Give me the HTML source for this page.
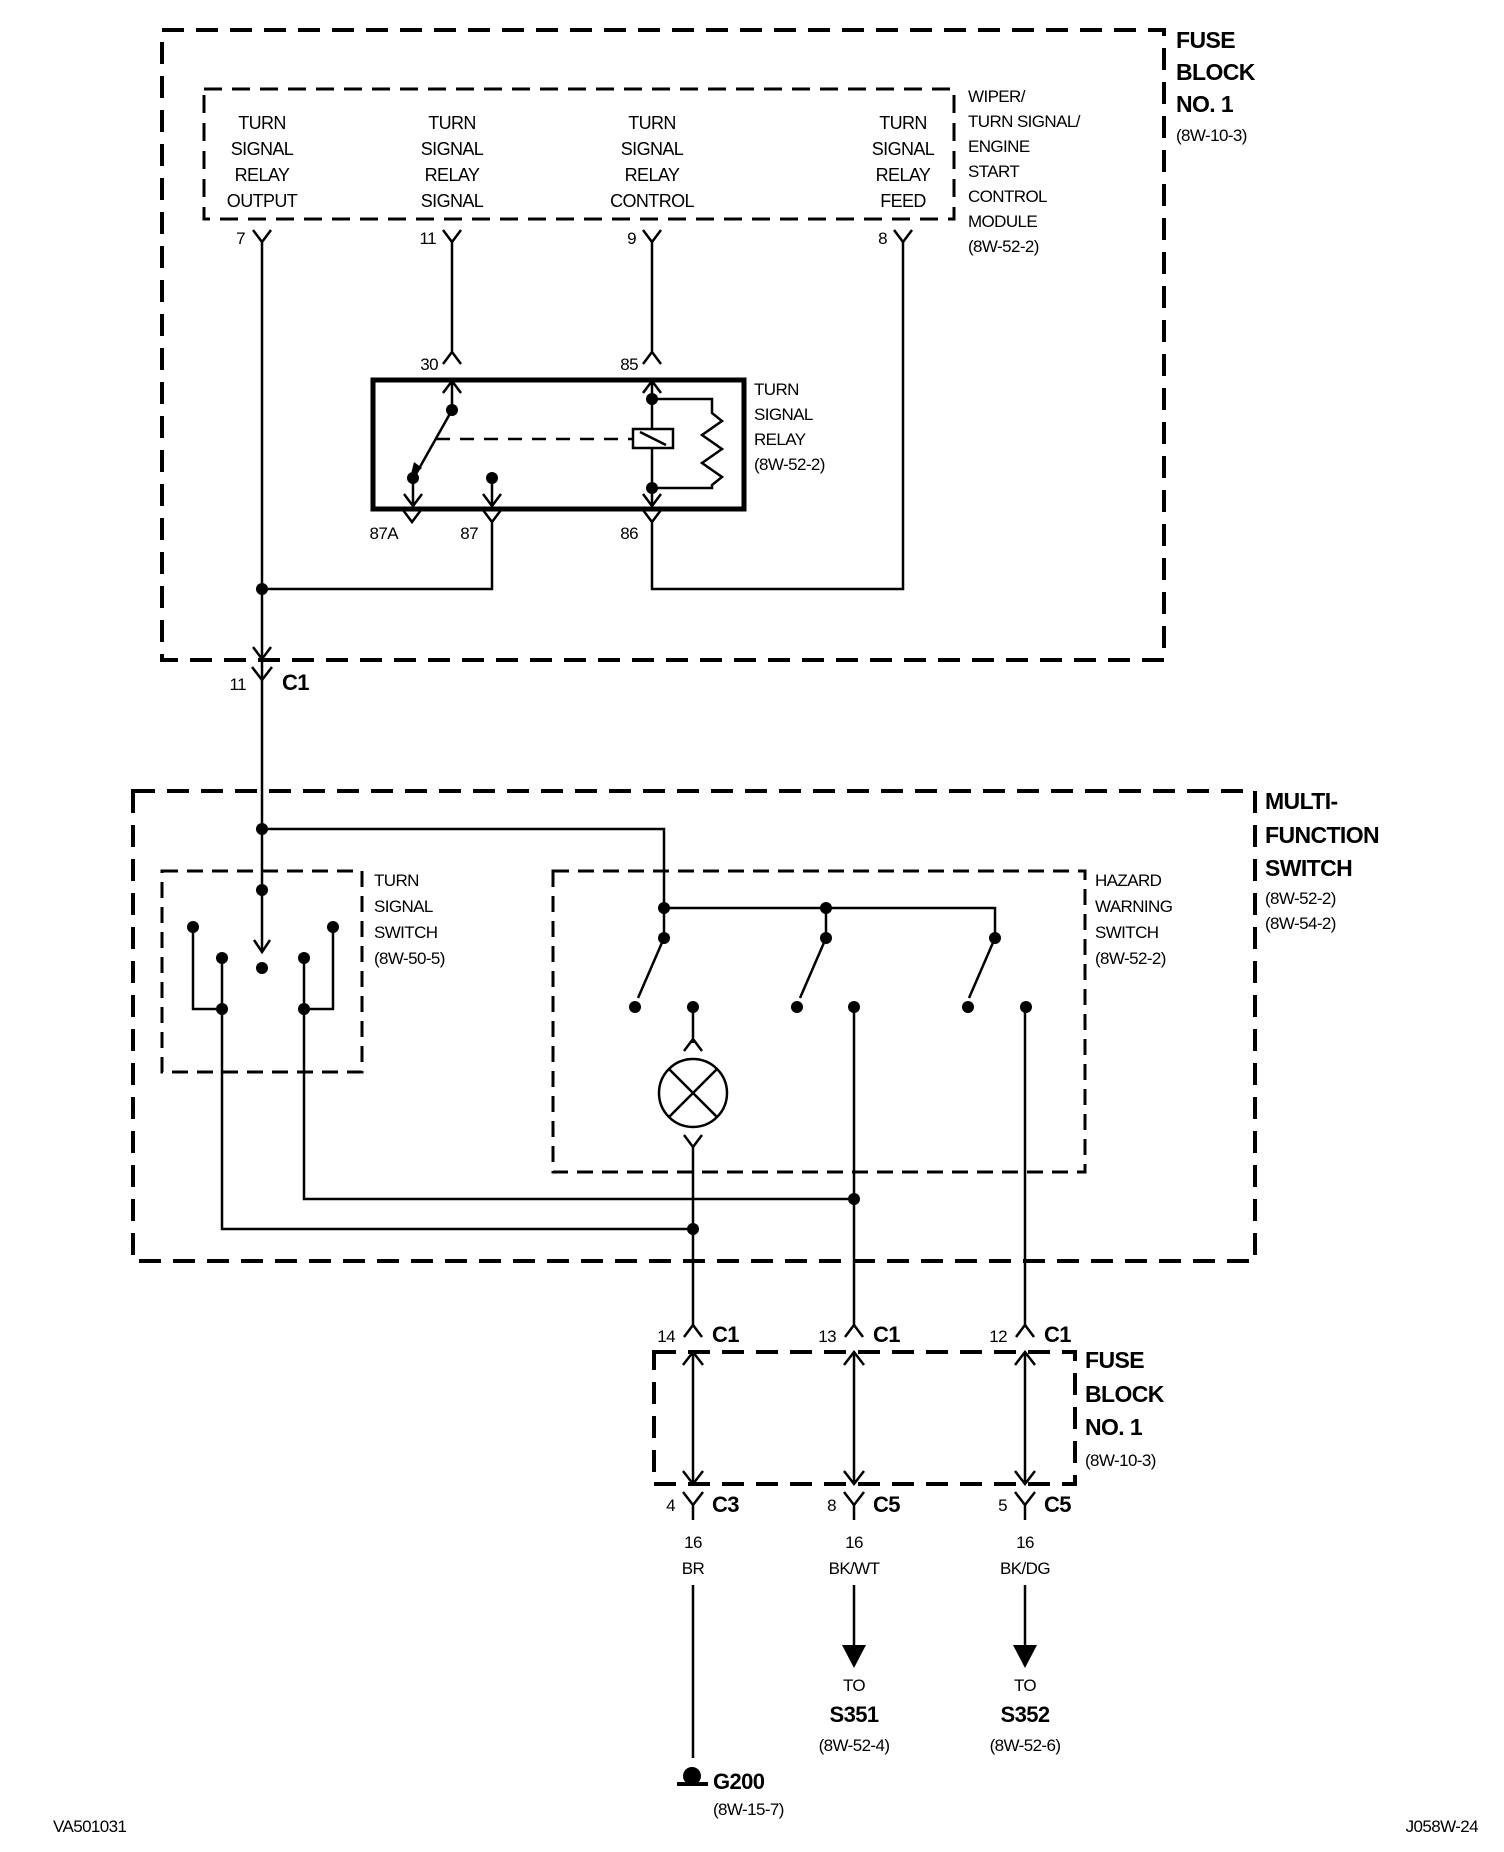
<!DOCTYPE html>
<html><head><meta charset="utf-8"><style>
html,body{margin:0;padding:0;background:#fff}
svg{display:block}
text{font-family:"Liberation Sans Narrow","Liberation Sans",sans-serif;fill:#000}
.t{font-size:18px;letter-spacing:-0.6px}
.s{font-size:17px;letter-spacing:-0.6px}
.b{font-weight:bold;font-size:23px;letter-spacing:-0.6px}
.c{font-weight:bold;font-size:22px;letter-spacing:-0.6px}
</style></head><body>
<svg width="1504" height="1852" viewBox="0 0 1504 1852" xmlns="http://www.w3.org/2000/svg">
<g fill="none" stroke="#000">
<rect x="162" y="30" width="1002" height="630" stroke-width="4" stroke-dasharray="22 12"/>
<rect x="204" y="89" width="750" height="130" stroke-width="3" stroke-dasharray="18 10"/>
<rect x="373" y="380" width="371" height="129" stroke-width="5"/>
<rect x="133" y="791" width="1122" height="470" stroke-width="4" stroke-dasharray="22 12"/>
<rect x="162" y="871" width="200" height="201" stroke-width="3" stroke-dasharray="16 9"/>
<rect x="553" y="871" width="532" height="301" stroke-width="3" stroke-dasharray="16 9"/>
<rect x="654" y="1352" width="421" height="132" stroke-width="4" stroke-dasharray="22 12"/>
</g>
<g fill="none" stroke="#000" stroke-width="2.5">
<path d="M253 230L262 242L271 230M443 230L452 242L461 230M643 230L652 242L661 230M894 230L903 242L912 230"/>
<path d="M262 242V952"/>
<path d="M452 242V352M443 364L452 352L461 364"/>
<path d="M652 242V352M643 364L652 352L661 364"/>
<path d="M903 242V589H652V522M643 510L652 522L661 510"/>
<path d="M492 522V589H262M483 510L492 522L501 510"/>
<path d="M403 510L412 522L421 510"/>
<path d="M443 393L452 381L461 393M452 381V410"/>
<path d="M452 410L416 474"/>
<path d="M413 478V506M404 494L413 506L422 494"/>
<path d="M492 478V506M483 494L492 506L501 494"/>
<path d="M643 393L652 381L661 393M652 381V506M643 494L652 506L661 494"/>
<path d="M652 399H712V413l10 8l-20 14l20 14l-20 14l20 14l-10 8V488H652"/>
<path d="M436 439H632" stroke-dasharray="14 10"/>
<rect x="633" y="429" width="40" height="19" fill="#fff"/>
<path d="M640 432L666 445"/>
<path d="M253 647L262 659L271 647M252 667L262 680L272 667"/>
<path d="M262 829H664V938"/>
<path d="M664 908H995V938M826 908V938"/>
<path d="M254 940L262 952L270 940"/>
<path d="M193 927V1009H222M333 927V1009H304"/>
<path d="M222 958V1229H693M304 958V1199H854"/>
<path d="M664 938L638 998M826 938L800 998M995 938L969 998"/>
<path d="M693 1007V1043M684 1051L693 1039L702 1051"/>
<circle cx="693" cy="1093" r="34"/>
<path d="M669 1069L717 1117M717 1069L669 1117"/>
<path d="M684 1135L693 1147L702 1135M693 1147V1325"/>
<path d="M854 1007V1325M1025 1007V1325"/>
<path d="M684 1337L693 1325L702 1337M845 1337L854 1325L863 1337M1016 1337L1025 1325L1034 1337"/>
<path d="M683 1365L693 1352L703 1365M693 1352V1484M683 1471L693 1484L703 1471"/>
<path d="M844 1365L854 1352L864 1365M854 1352V1484M844 1471L854 1484L864 1471"/>
<path d="M1015 1365L1025 1352L1035 1365M1025 1352V1484M1015 1471L1025 1484L1035 1471"/>
<path d="M683 1492L693 1505L703 1492M693 1505V1520M844 1492L854 1505L864 1492M854 1505V1520M1015 1492L1025 1505L1035 1492M1025 1505V1520"/>
<path d="M693 1585V1758M854 1585V1647M1025 1585V1647"/>
<path d="M677 1784H708" stroke-width="4"/>
</g>
<g fill="#000">
<circle cx="262" cy="589" r="6"/>
<circle cx="452" cy="410" r="6"/><circle cx="413" cy="478" r="6"/><circle cx="492" cy="478" r="6"/>
<circle cx="652" cy="399" r="6"/><circle cx="652" cy="488" r="6"/>
<path d="M410 478L414 462L422 468Z"/>
<circle cx="262" cy="829" r="6"/><circle cx="262" cy="890" r="6"/><circle cx="262" cy="968" r="6"/>
<circle cx="193" cy="927" r="6"/><circle cx="333" cy="927" r="6"/>
<circle cx="222" cy="958" r="6"/><circle cx="304" cy="958" r="6"/>
<circle cx="222" cy="1009" r="6"/><circle cx="304" cy="1009" r="6"/>
<circle cx="664" cy="908" r="6"/><circle cx="826" cy="908" r="6"/>
<circle cx="664" cy="938" r="6"/><circle cx="826" cy="938" r="6"/><circle cx="995" cy="938" r="6"/>
<circle cx="635" cy="1007" r="6"/><circle cx="693" cy="1007" r="6"/><circle cx="797" cy="1007" r="6"/>
<circle cx="854" cy="1007" r="6"/><circle cx="968" cy="1007" r="6"/><circle cx="1026" cy="1007" r="6"/>
<circle cx="693" cy="1229" r="6"/><circle cx="854" cy="1199" r="6"/>
<path d="M842 1645H866L854 1668Z"/><path d="M1013 1645H1037L1025 1668Z"/>
<circle cx="692" cy="1776" r="9"/>
</g>
<g class="t" text-anchor="middle">
<text x="262" y="129">TURN</text><text x="262" y="155">SIGNAL</text><text x="262" y="181">RELAY</text><text x="262" y="207">OUTPUT</text>
<text x="452" y="129">TURN</text><text x="452" y="155">SIGNAL</text><text x="452" y="181">RELAY</text><text x="452" y="207">SIGNAL</text>
<text x="652" y="129">TURN</text><text x="652" y="155">SIGNAL</text><text x="652" y="181">RELAY</text><text x="652" y="207">CONTROL</text>
<text x="903" y="129">TURN</text><text x="903" y="155">SIGNAL</text><text x="903" y="181">RELAY</text><text x="903" y="207">FEED</text>
</g>
<g class="s" text-anchor="end">
<text x="245" y="244">7</text><text x="436" y="244">11</text><text x="636" y="244">9</text><text x="887" y="244">8</text>
<text x="438" y="370">30</text><text x="638" y="370">85</text>
<text x="398" y="539">87A</text><text x="478" y="539">87</text><text x="638" y="539">86</text>
<text x="246" y="690">11</text>
<text x="675" y="1342">14</text><text x="836" y="1342">13</text><text x="1007" y="1342">12</text>
<text x="675" y="1511">4</text><text x="836" y="1511">8</text><text x="1007" y="1511">5</text>
</g>
<g class="s">
<text x="968" y="102">WIPER/</text><text x="968" y="127">TURN SIGNAL/</text><text x="968" y="152">ENGINE</text><text x="968" y="177">START</text><text x="968" y="202">CONTROL</text><text x="968" y="227">MODULE</text><text x="968" y="252">(8W-52-2)</text>
<text x="1176" y="141">(8W-10-3)</text>
<text x="754" y="395">TURN</text><text x="754" y="420">SIGNAL</text><text x="754" y="445">RELAY</text><text x="754" y="470">(8W-52-2)</text>
<text x="1265" y="904">(8W-52-2)</text><text x="1265" y="929">(8W-54-2)</text>
<text x="374" y="886">TURN</text><text x="374" y="912">SIGNAL</text><text x="374" y="938">SWITCH</text><text x="374" y="964">(8W-50-5)</text>
<text x="1095" y="886">HAZARD</text><text x="1095" y="912">WARNING</text><text x="1095" y="938">SWITCH</text><text x="1095" y="964">(8W-52-2)</text>
<text x="1085" y="1466">(8W-10-3)</text>
<text x="713" y="1815">(8W-15-7)</text>
<text x="53" y="1832">VA501031</text>
<text x="1478" y="1832" text-anchor="end">J058W-24</text>
</g>
<g class="s" text-anchor="middle">
<text x="693" y="1548">16</text><text x="693" y="1574">BR</text>
<text x="854" y="1548">16</text><text x="854" y="1574">BK/WT</text>
<text x="1025" y="1548">16</text><text x="1025" y="1574">BK/DG</text>
<text x="854" y="1691">TO</text><text x="1025" y="1691">TO</text>
<text x="854" y="1751">(8W-52-4)</text><text x="1025" y="1751">(8W-52-6)</text>
</g>
<g class="c" text-anchor="middle">
<text x="854" y="1722">S351</text><text x="1025" y="1722">S352</text>
</g>
<g class="c">
<text x="282" y="690">C1</text>
<text x="712" y="1342">C1</text><text x="873" y="1342">C1</text><text x="1044" y="1342">C1</text>
<text x="712" y="1512">C3</text><text x="873" y="1512">C5</text><text x="1044" y="1512">C5</text>
<text x="713" y="1789">G200</text>
</g>
<g class="b">
<text x="1176" y="48">FUSE</text><text x="1176" y="80">BLOCK</text><text x="1176" y="112">NO. 1</text>
<text x="1265" y="809">MULTI-</text><text x="1265" y="843">FUNCTION</text><text x="1265" y="876">SWITCH</text>
<text x="1085" y="1368">FUSE</text><text x="1085" y="1402">BLOCK</text><text x="1085" y="1435">NO. 1</text>
</g>
</svg>
</body></html>
